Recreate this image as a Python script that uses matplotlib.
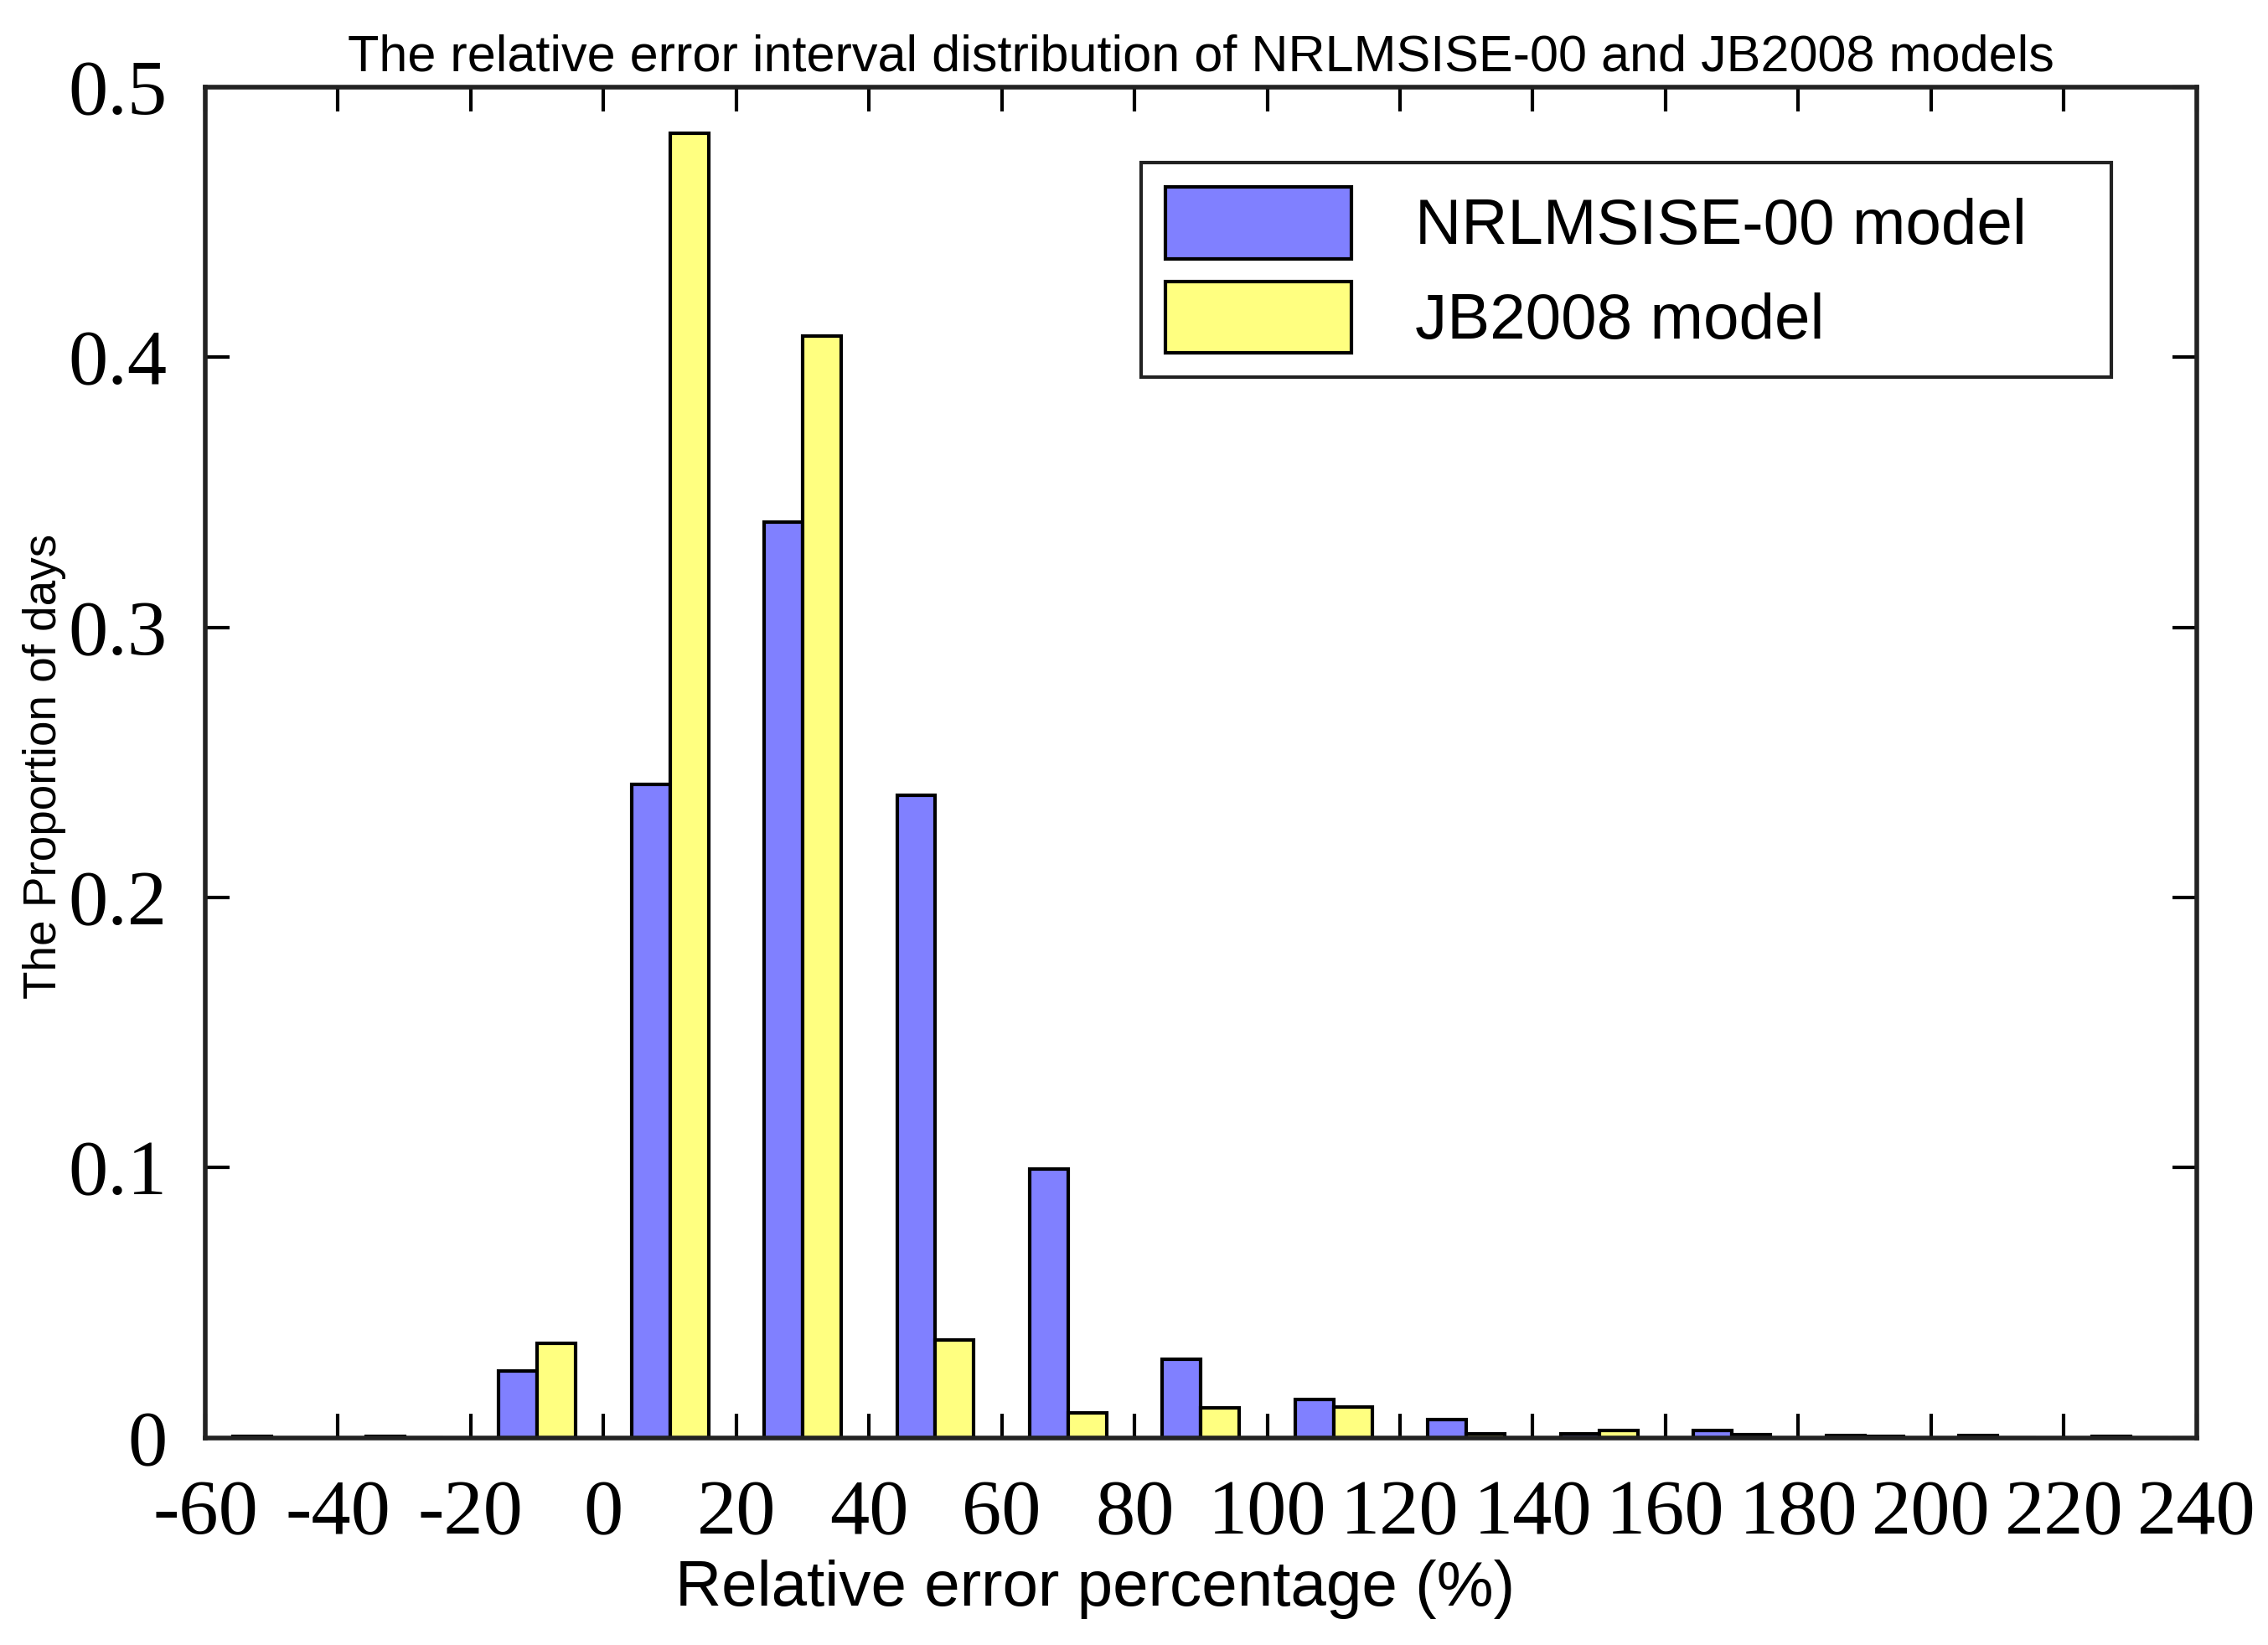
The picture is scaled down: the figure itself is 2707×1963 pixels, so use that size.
import matplotlib.pyplot as plt
import numpy as np

# interval centres (%) and the share of days falling in each interval
centers = [-50, -30, -10, 10, 30, 50, 70, 90, 110, 130, 150, 170, 190, 210, 230]
nrlmsise = [0.0005, 0.0005, 0.0246, 0.242, 0.339, 0.238, 0.0996, 0.0292, 0.0142,
            0.0067, 0.0015, 0.0028, 0.0007, 0.0008, 0.0006]
jb2008 = [0.0, 0.0, 0.0351, 0.483, 0.408, 0.0363, 0.0093, 0.0112, 0.0115,
          0.0016, 0.0028, 0.0010, 0.0005, 0.0, 0.0]
xticks = list(range(-60, 241, 20))
yticks = [0, 0.1, 0.2, 0.3, 0.4, 0.5]
ytick_labels = ['0', '0.1', '0.2', '0.3', '0.4', '0.5']

plt.rcParams['axes.unicode_minus'] = False

fig = plt.figure(figsize=(27.07, 19.63), dpi=100)
ax = fig.add_axes([0.0905, 0.126, 0.878, 0.821])

width = 5.8
x = np.array(centers)
ax.bar(x - width / 2, nrlmsise, width, color='#8080FF', edgecolor='black',
       linewidth=3, label='NRLMSISE-00 model')
ax.bar(x + width / 2, jb2008, width, color='#FFFF80', edgecolor='black',
       linewidth=3, label='JB2008 model')

ax.set_xlim(-60, 240)
ax.set_ylim(0, 0.5)
ax.set_xticks(xticks)
ax.set_yticks(yticks)
ax.set_yticklabels(ytick_labels)
ax.tick_params(direction='in', length=21, width=3, top=True, right=True,
               labelsize=68)
ax.tick_params(axis='x', pad=36)
ax.tick_params(axis='y', pad=33)
for lab in ax.get_xticklabels() + ax.get_yticklabels():
    lab.set_family('Liberation Serif')
for s in ax.spines.values():
    s.set_linewidth(4)
    s.set_color('#222222')

ax.set_title('The relative error interval distribution of NRLMSISE-00 and JB2008 models',
             fontsize=44, family='Liberation Sans', pad=14)
ax.set_xlabel('Relative error percentage (%)', fontsize=55, family='Liberation Sans')
ax.xaxis.set_label_coords(0.447, -0.09)
ax.set_ylabel('The Proportion of days', fontsize=39.5, family='Liberation Sans')
ax.yaxis.set_label_coords(-0.07, 0.497)

leg = ax.legend(loc='upper left', bbox_to_anchor=(0.47, 0.784, 0.487, 0.16),
                mode='expand', borderaxespad=0, fancybox=False,
                prop={'family': 'Liberation Sans', 'size': 55},
                handlelength=2.9, handleheight=1.34, handletextpad=1.0,
                borderpad=0.38, labelspacing=0.36, framealpha=1)
leg.get_frame().set_edgecolor('#222222')
leg.get_frame().set_linewidth(3)

plt.savefig('out.png', dpi=100)
